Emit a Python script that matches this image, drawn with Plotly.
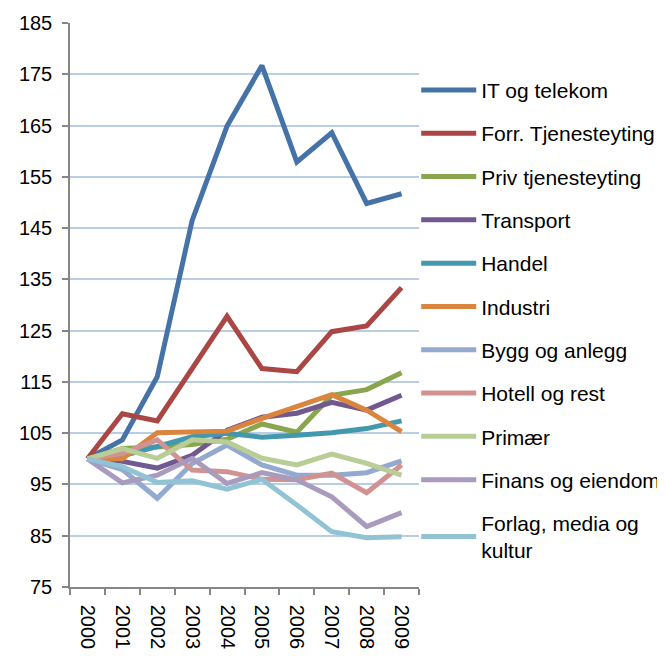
import plotly.graph_objects as go

years = ["2000", "2001", "2002", "2003", "2004", "2005", "2006", "2007", "2008", "2009"]

series_names = [
    "IT og telekom", "Forr. Tjenesteyting", "Priv tjenesteyting", "Transport",
    "Handel", "Industri", "Bygg og anlegg", "Hotell og rest", "Primær",
    "Finans og eiendom", "Forlag, media og<br>kultur",
]

it_telekom = [100, 103.7, 116.0, 146.5, 164.9, 176.7, 157.9, 163.6, 149.8, 151.7]
forr_tjenesteyting = [100, 108.8, 107.4, 117.6, 127.8, 117.6, 117.0, 124.8, 125.9, 133.4]
priv_tjenesteyting = [100, 102.0, 102.3, 102.8, 103.8, 106.8, 105.2, 112.4, 113.5, 116.8]
transport = [100, 99.5, 98.2, 100.7, 105.6, 108.1, 108.9, 111.0, 109.5, 112.4]
handel = [100, 100.6, 102.4, 104.3, 105.0, 104.2, 104.6, 105.1, 105.9, 107.4]
industri = [100, 100.0, 105.1, 105.3, 105.4, 107.9, 110.3, 112.5, 109.5, 105.3]
bygg_anlegg = [100, 97.9, 92.3, 99.1, 102.7, 98.8, 96.8, 96.8, 97.3, 99.6]
hotell_rest = [100, 101.0, 103.7, 97.8, 97.5, 96.0, 95.9, 97.2, 93.4, 98.8]
primaer = [100, 102.0, 100.1, 103.7, 103.3, 100.1, 98.8, 100.9, 99.1, 96.8]
finans_eiendom = [100, 95.3, 96.8, 100.1, 95.2, 97.3, 95.9, 92.6, 86.8, 89.5]
forlag_media = [100, 98.5, 95.4, 95.7, 94.1, 96.0, 91.0, 85.8, 84.6, 84.8]

y_ticks = [75, 85, 95, 105, 115, 125, 135, 145, 155, 165, 175, 185]

colors = ["#4572A7", "#AA4643", "#89A54E", "#71588F", "#4198AF", "#DB843D",
          "#93A9CF", "#D19392", "#B9CD96", "#A99BBD", "#92C3D5"]

all_values = [it_telekom, forr_tjenesteyting, priv_tjenesteyting, transport, handel,
              industri, bygg_anlegg, hotell_rest, primaer, finans_eiendom, forlag_media]

FONT = "Arial, Liberation Sans, sans-serif"

fig = go.Figure()
for i, (name, vals, col) in enumerate(zip(series_names, all_values, colors)):
    fig.add_trace(go.Scatter(
        x=years, y=vals, name=name, mode="lines",
        line=dict(color=col, width=5),
        legendgroup=f"g{i}",
    ))

fig.update_layout(
    width=657, height=649,
    margin=dict(l=62, r=246, t=15, b=70, autoexpand=False),
    paper_bgcolor="white", plot_bgcolor="white",
    font=dict(family=FONT, size=21, color="black"),
    showlegend=True,
    legend=dict(
        x=0.992, xanchor="left", y=0.917, yanchor="top",
        font=dict(family=FONT, size=21, color="black"),
        tracegroupgap=13, itemwidth=55,
        bgcolor="rgba(0,0,0,0)",
    ),
)
fig.update_xaxes(
    type="category", range=[-0.5, 9.5], automargin=False,
    showline=True, linecolor="#868686", linewidth=1.5,
    showgrid=False, ticks="outside", ticklen=6, tickcolor="#868686", tickwidth=1.5,
    tickson="boundaries", tickangle=90, ticklabelstandoff=12,
    tickfont=dict(family=FONT, size=20, color="black"),
)
fig.update_yaxes(
    range=[75, 185], tickvals=y_ticks, ticktext=[str(v) for v in y_ticks],
    automargin=False,
    showline=True, linecolor="#868686", linewidth=1.5,
    showgrid=True, gridcolor="#B9CDE5", gridwidth=1.5,
    ticks="outside", ticklen=6, tickcolor="#868686", tickwidth=1.5,
    ticklabelstandoff=6,
    tickfont=dict(family=FONT, size=20, color="black"),
    zeroline=False,
)

fig.write_html("out.html")
